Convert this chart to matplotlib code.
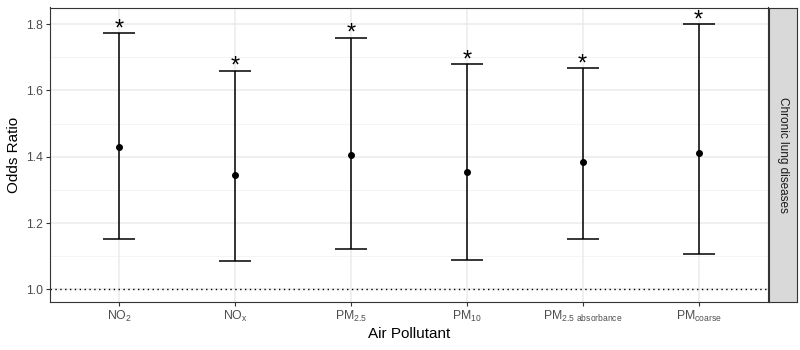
import matplotlib
matplotlib.use("Agg")
import matplotlib.pyplot as plt
import numpy as np

plt.rcParams['font.family'] = ['Liberation Sans', 'DejaVu Sans']
plt.rcParams['mathtext.default'] = 'regular'

pollutants = [r'NO$_2$', r'NO$_x$', r'PM$_{2.5}$', r'PM$_{10}$',
              r'PM$_{2.5\ absorbance}$', r'PM$_{coarse}$']
odds_ratio = [1.429, 1.345, 1.404, 1.353, 1.385, 1.412]
ci_lower = [1.152, 1.085, 1.121, 1.089, 1.151, 1.106]
ci_upper = [1.772, 1.659, 1.759, 1.679, 1.667, 1.800]
significance = ['*', '*', '*', '*', '*', '*']
facet_label = 'Chronic lung diseases'

fig = plt.figure(figsize=(8, 3.5), dpi=100)
ax = fig.add_axes([50/800, 1-302.3/350, (768-50)/800, (302.3-7.5)/350])

x = np.arange(1, len(pollutants) + 1)
ax.set_xlim(0.4, len(pollutants) + 0.6)
ax.set_ylim(0.961, 1.85)

# grid
for yv in [1.1, 1.3, 1.5, 1.7]:
    ax.axhline(yv, color='#F2F2F2', lw=0.6, zorder=0)
for yv in [1.0, 1.2, 1.4, 1.6, 1.8]:
    ax.axhline(yv, color='#EBEBEB', lw=1.1, zorder=0)
for xv in x:
    ax.axvline(xv, color='#EBEBEB', lw=1.1, zorder=0)

ax.axhline(1.0, color='black', lw=1.0, ls=(0, (1, 2.5)), zorder=1)

lo = np.array(odds_ratio) - np.array(ci_lower)
hi = np.array(ci_upper) - np.array(odds_ratio)
ax.errorbar(x, odds_ratio, yerr=[lo, hi], fmt='none', ecolor='black',
            elinewidth=1.1, capsize=11.5, capthick=1.1, zorder=3)
ax.scatter(x, odds_ratio, s=16, color='black', zorder=4)

for xi, up, s in zip(x, ci_upper, significance):
    ax.annotate(s, (xi, up), xytext=(0, -1.5), textcoords='offset points',
                ha='center', va='baseline', fontsize=17, color='black')

ax.set_xticks(x)
ax.set_xticklabels(pollutants, fontsize=8.8, color='#4D4D4D')
ax.set_yticks([1.0, 1.2, 1.4, 1.6, 1.8])
ax.set_yticklabels(['1.0', '1.2', '1.4', '1.6', '1.8'], fontsize=8.8, color='#4D4D4D')
ax.tick_params(axis='both', length=3, width=0.8, color='#333333', pad=2)
ax.set_xlabel('Air Pollutant', fontsize=11, labelpad=2)
ax.set_ylabel('Odds Ratio', fontsize=11, labelpad=4)
for sp in ax.spines.values():
    sp.set_color('#333333')
    sp.set_linewidth(0.8)

# facet strip
sax = fig.add_axes([769/800, 1-302.3/350, 28/800, (302.3-7.5)/350])
sax.set_facecolor('#D9D9D9')
sax.set_xticks([])
sax.set_yticks([])
for sp in sax.spines.values():
    sp.set_color('#333333')
    sp.set_linewidth(0.8)
sax.text(0.5, 0.5, facet_label, rotation=-90, ha='center', va='center',
         fontsize=8.5, color='#1A1A1A', transform=sax.transAxes)

fig.savefig('out.png', dpi=100)
